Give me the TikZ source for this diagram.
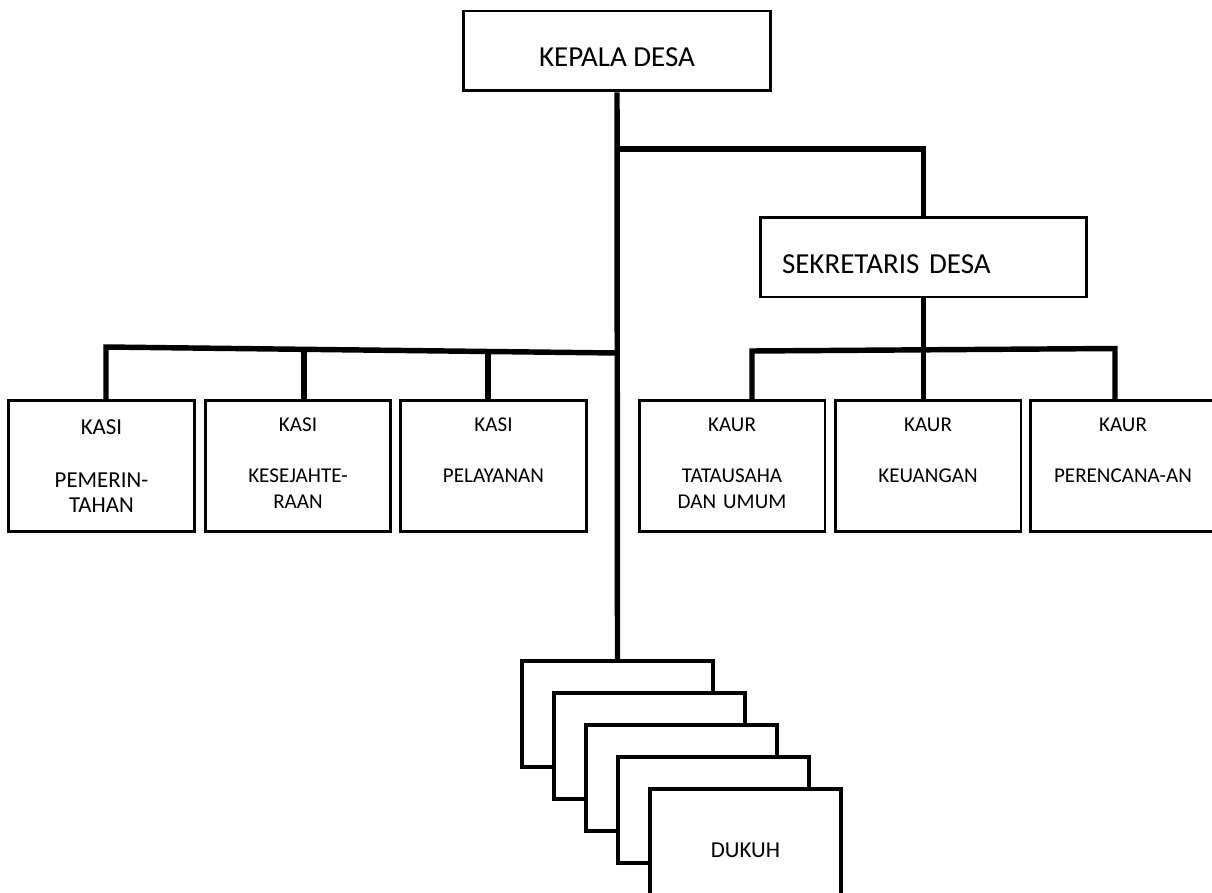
\documentclass[tikz,border=0pt]{standalone}
\usepackage{fontspec}
\setmainfont{Carlito}
\usepackage{tikz}

\begin{document}
\begin{tikzpicture}[x=0.02cm,y=-0.02cm]

        \useasboundingbox (0,0) rectangle (1212,892);

        \begin{scope}[every node/.style={draw, rectangle, fill=white, line width=1.7pt}]
          % top
          \node[minimum width=6.16cm, minimum height=1.6cm, text height=0.64cm, text depth=0pt,
                font=\fontsize{16.5}{19}\selectfont] (kades) at (617,51) {KEPALA DESA};
          \node[text width=5.66cm, inner xsep=0.44cm, minimum height=1.6cm, align=left,
                text height=0.64cm, text depth=0pt,
                font=\fontsize{16.5}{19}\selectfont] (sekdes) at (923.5,257) {SEKRETARIS DESA};
        \end{scope}

        \begin{scope}[every node/.style={draw, rectangle, fill=white, line width=1.7pt, anchor=north,
                      text width=3.72cm, inner xsep=0pt, inner ysep=0pt, align=center,
                      text height=0.62cm, text depth=2cm, font=\fontsize{12}{14.8}\selectfont}]
          \node[text height=0.68cm, text depth=1.94cm, font=\fontsize{13}{14.5}\selectfont]
                (kasi1) at (101.5,399) {KASI\\[15.5pt]PEMERIN-\\TAHAN};
          \node (kasi2) at (298,399) {KASI\\[14.2pt]KESEJAHTE-\\RAAN};
          \node (kasi3) at (493.5,399) {KASI\\[14.2pt]PELAYANAN};
          \node (kaur1) at (732,399) {KAUR\\[14.2pt]TATAUSAHA\\DAN UMUM};
          \node (kaur2) at (928,399) {KAUR\\[14.2pt]KEUANGAN};
          \node (kaur3) at (1123,399) {KAUR\\[14.2pt]PERENCANA-AN};
        \end{scope}

        \begin{scope}[every node/.style={draw, rectangle, fill=white, line width=1.8pt,
                      minimum width=3.82cm, minimum height=2.12cm}]
          \foreach \i in {1,...,4}
            \node (dukuh\i) at ({617.5+32*(\i-1)},{714+32*(\i-1)}) {};
          \node[text height=0.6cm, text depth=0pt, font=\fontsize{13}{16}\selectfont]
                (dukuh5) at (745.5,842) {DUKUH};
        \end{scope}

        % connectors
        \coordinate (jsek) at (617,149);
        \coordinate (jkasi) at (617,353);
        \coordinate (d1) at (106,347);
        \coordinate (d2) at (304,349.5);
        \coordinate (d3) at (488,351.5);
        \coordinate (r1) at (752,351);
        \coordinate (r2) at (922,350);
        \coordinate (r3) at (1115,348.5);

        \begin{scope}[line width=3.1pt]
          \draw (kades.south) -- (dukuh1.north);
          \draw (jsek) -| (sekdes.north);
          \draw (jkasi) -- (d1) -- (d1 |- kasi1.north);
          \draw (d2) -- (d2 |- kasi2.north);
          \draw (d3) -- (d3 |- kasi3.north);
          \draw (sekdes.south) -- (sekdes.south |- kaur2.north);
          \draw (r1 |- kaur1.north) -- (r1) -- (r3) -- (r3 |- kaur3.north);
        \end{scope}

      \end{tikzpicture}
\end{document}
